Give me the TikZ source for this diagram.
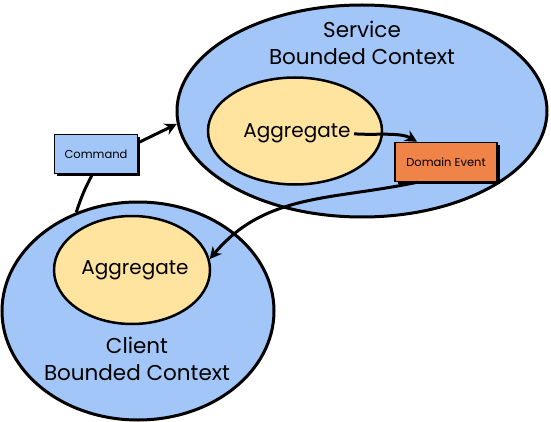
\documentclass[tikz,border=0pt]{standalone}
\usepackage{fontspec}
\setmainfont{Poppins}
\usetikzlibrary{arrows.meta,shapes.geometric,shadows}
\definecolor{CtxClr}{RGB}{162,198,248}
\definecolor{AggClr}{RGB}{255,228,160}
\definecolor{EvtClr}{RGB}{240,132,72}

\begin{document}
\begin{tikzpicture}[x=1pt,y=-1pt,
  ctx/.style={ellipse,draw=black,line width=3pt,fill=CtxClr,inner sep=0pt},
  agg/.style={ellipse,draw=black,line width=2.5pt,fill=AggClr,inner sep=0pt},
  msgbox/.style={draw=black,line width=1.5pt,minimum height=39pt,inner sep=0pt,
    font=\fontsize{11.5}{13}\selectfont,
    drop shadow={shadow xshift=2.5pt,shadow yshift=-2.5pt,opacity=1,fill=black}},
  bigtxt/.style={font=\fontsize{20}{26}\selectfont,align=center},
  ctxtxt/.style={font=\fontsize{21.5}{27}\selectfont,align=center},
  conn/.style={line width=3pt,-{Stealth[length=12pt,width=12pt]}}]
\useasboundingbox (0,0) rectangle (551,422);

% service context
\node[ctx,minimum width=370pt,minimum height=212pt] (svc) at (362,111) {};
\node[agg,minimum width=174pt,minimum height=107pt] (sagg) at (295,131) {};
\node[ctxtxt] (svctxt) at (362,43) {Service\\Bounded Context};
\node[bigtxt,anchor=base] (saggtxt) at (297,138) {Aggregate};

% client context
\node[ctx,minimum width=272pt,minimum height=218pt] (cli) at (138,311) {};
\node[agg,minimum width=156pt,minimum height=108pt] (cagg) at (132,270) {};
\node[bigtxt,anchor=base] (caggtxt) at (135,274) {Aggregate};
\node[ctxtxt] (clitxt) at (137,359) {Client\\Bounded Context};

% messages
\node[msgbox,fill=CtxClr,minimum width=83pt] (cmd) at (96,154) {Command};
\node[msgbox,fill=EvtClr,minimum width=102pt] (evt) at (446,162) {Domain Event};

\draw[conn] (cmd.15) -- (svc.184);
\draw[line width=3pt] (cmd.-100) to[bend right=5] (cli.122);
\draw[conn] (saggtxt.east) to[out=-5,in=150,looseness=0.8] (evt.145);
\draw[conn] (evt.-145) to[out=192,in=50] (cagg.8);

\end{tikzpicture}
\end{document}
